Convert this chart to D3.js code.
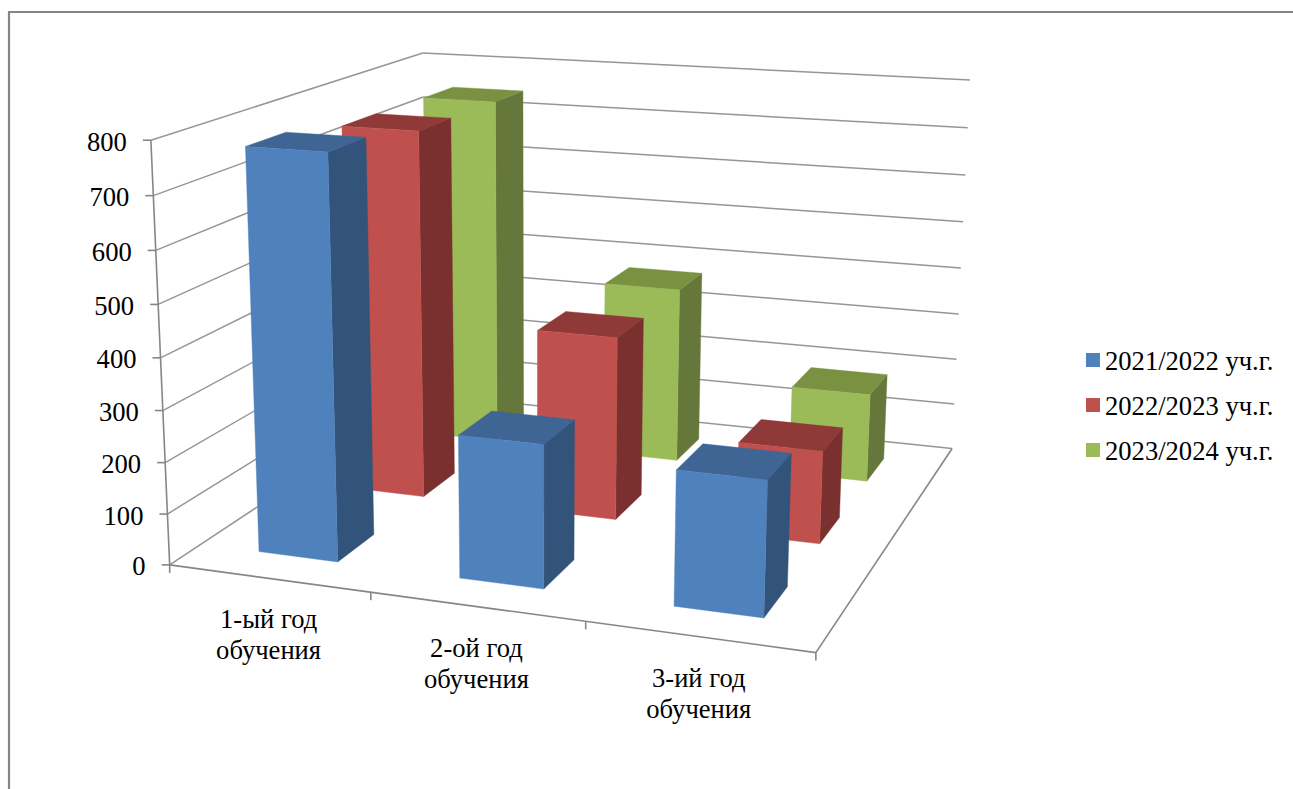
<!DOCTYPE html>
<html><head><meta charset="utf-8">
<script src="https://cdn.jsdelivr.net/npm/d3@7"></script>
<style>html,body{margin:0;padding:0;background:#fff;overflow:hidden}svg{display:block}text{font-family:"Liberation Serif",serif;fill:#000}</style>
</head><body><svg id="c" width="1293" height="789"></svg>
<script>
const categories = ["1-ый год обучения", "2-ой год обучения", "3-ий год обучения"];
const seriesNames = ["2021/2022 уч.г.", "2022/2023 уч.г.", "2023/2024 уч.г."];
const values2021 = [776, 274, 254];
const values2022 = [749, 370, 185];
const values2023 = [746, 373, 186];
const faceColors = ["#4F81BD", "#C0504D", "#9BBB59"];
const topColors = ["#3E6594", "#8F3A38", "#7A9142"];
const sideColors = ["#32537A", "#7A302E", "#65773A"];
const gridColor = "#868686";
const valueMax = 800, fontSize = 26.6;

const seriesValues = [values2021, values2022, values2023];
const svg = d3.select("#c");

// Calibration of the oblique view: unit-cube corner -> page point of the chart's box
const boxFrame = [
  [[0,0,0],[170,565]], [[1,0,0],[815.7,652.7]], [[1,1,0],[952.3,448.3]], [[0,1,0],[427,394.3]],
  [[0,0,1],[150.7,140]], [[0,1,1],[423,53]], [[1,1,1],[970,80]]
];
function solve(A, b){
  const n=b.length, M=A.map((r,i)=>[...r,b[i]]);
  for(let i=0;i<n;i++){
    let p=i; for(let k=i+1;k<n;k++) if(Math.abs(M[k][i])>Math.abs(M[p][i])) p=k;
    [M[i],M[p]]=[M[p],M[i]];
    for(let k=i+1;k<n;k++){const f=M[k][i]/M[i][i]; for(let j=i;j<=n;j++) M[k][j]-=f*M[i][j];}
  }
  const x=new Array(n).fill(0);
  for(let i=n-1;i>=0;i--){let s=M[i][n]; for(let j=i+1;j<n;j++) s-=M[i][j]*x[j]; x[i]=s/M[i][i];}
  return x;
}
const rows=[], rhs=[];
boxFrame.forEach(([w,s])=>{
  const [X,D,H]=w, u=s[0]/1000, v=s[1]/1000;
  rows.push([X,D,H,1,0,0,0,0,-u*X,-u*D,-u*H]); rhs.push(u);
  rows.push([0,0,0,0,X,D,H,1,-v*X,-v*D,-v*H]); rhs.push(v);
});
const ATA=d3.range(11).map(i=>d3.range(11).map(j=>d3.sum(rows,r=>r[i]*r[j])));
const ATb=d3.range(11).map(i=>d3.sum(rows,(r,k)=>r[i]*rhs[k]));
const P=solve(ATA,ATb);
function proj(x,d,h){
  const w=P[8]*x+P[9]*d+P[10]*h+1;
  return [1000*(P[0]*x+P[1]*d+P[2]*h+P[3])/w, 1000*(P[4]*x+P[5]*d+P[6]*h+P[7])/w];
}

const xBand = d3.scaleBand().domain(categories).range([0,1]).paddingInner(0.6).paddingOuter(0.3);
const xSlot = d3.scaleBand().domain(categories).range([0,1]);
const dBand = d3.scaleBand().domain(seriesNames).range([0,1]).paddingInner(0.6).paddingOuter(0.3);
const yScale = d3.scaleLinear().domain([0,valueMax]).range([0,1]);
const ticks = yScale.ticks(8);

const gLine = svg.append("g").attr("fill","none").attr("stroke",gridColor).attr("stroke-width",1.5);
const seg=(a,b,c="#969696",wd=1.5)=>gLine.append("line").attr("x1",a[0]).attr("y1",a[1]).attr("x2",b[0]).attr("y2",b[1]).attr("stroke",c).attr("stroke-width",wd);

// outer chart frame
svg.append("path").attr("d","M9,800V12H1300").attr("fill","none").attr("stroke",gridColor).attr("stroke-width",2.2);

// walls and floor
ticks.forEach(t=>{
  const h=yScale(t);
  seg(proj(0,0,h),proj(0,1,h));
  seg(proj(0,1,h),proj(1,1,h));
  const a=proj(0,0,h);
  seg([a[0]-8,a[1]],a,gridColor,1.6);
  svg.append("text").attr("x",a[0]-24).attr("y",a[1]+1.5).attr("dy","0.34em").attr("text-anchor","end")
    .attr("font-size",fontSize).text(t);
});
seg(proj(0,0,0),proj(0,0,1),gridColor,1.6);
seg(proj(0,0,0),proj(1,0,0),gridColor,1.6);
seg(proj(1,0,0),proj(1,1,0),gridColor,1.6);
const catEdges=[...categories.map(c=>xSlot(c)),1];
catEdges.forEach(e=>{const a=proj(e,0,0); seg(a,[a[0],a[1]+8],gridColor,1.6);});

// bars: back row first, left to right
const poly=(pts,fill)=>svg.append("polygon").attr("points",pts.map(p=>p.join(",")).join(" ")).attr("fill",fill).attr("stroke",fill).attr("stroke-width",0.4);
d3.range(seriesNames.length).reverse().forEach(si=>{
  categories.forEach((c,ci)=>{
    const x0=xBand(c), x1=x0+xBand.bandwidth();
    const d0=dBand(seriesNames[si]), d1=d0+dBand.bandwidth();
    const h=yScale(seriesValues[si][ci]);
    poly([proj(x1,d0,0),proj(x1,d1,0),proj(x1,d1,h),proj(x1,d0,h)],sideColors[si]);
    poly([proj(x0,d0,h),proj(x1,d0,h),proj(x1,d1,h),proj(x0,d1,h)],topColors[si]);
    poly([proj(x0,d0,0),proj(x1,d0,0),proj(x1,d0,h),proj(x0,d0,h)],faceColors[si]);
  });
});

// category labels: two lines, centred under each slot
categories.forEach(c=>{
  const a=proj(xSlot(c)+xSlot.bandwidth()/2,0,0);
  const i=c.lastIndexOf(" ");
  [c.slice(0,i),c.slice(i+1)].forEach((s,k)=>{
    svg.append("text").attr("x",a[0]).attr("y",a[1]+41+k*31).attr("dy","0.34em").attr("text-anchor","middle")
      .attr("font-size",fontSize).text(s);
  });
});

// legend
const legendY=d3.scalePoint().domain(seriesNames).range([360,450]);
seriesNames.forEach((s,i)=>{
  svg.append("rect").attr("x",1086).attr("y",legendY(s)-7).attr("width",14).attr("height",14).attr("fill",faceColors[i]);
  svg.append("text").attr("x",1105).attr("y",legendY(s)+1).attr("dy","0.34em").attr("font-size",fontSize).text(s);
});
</script></body></html>
